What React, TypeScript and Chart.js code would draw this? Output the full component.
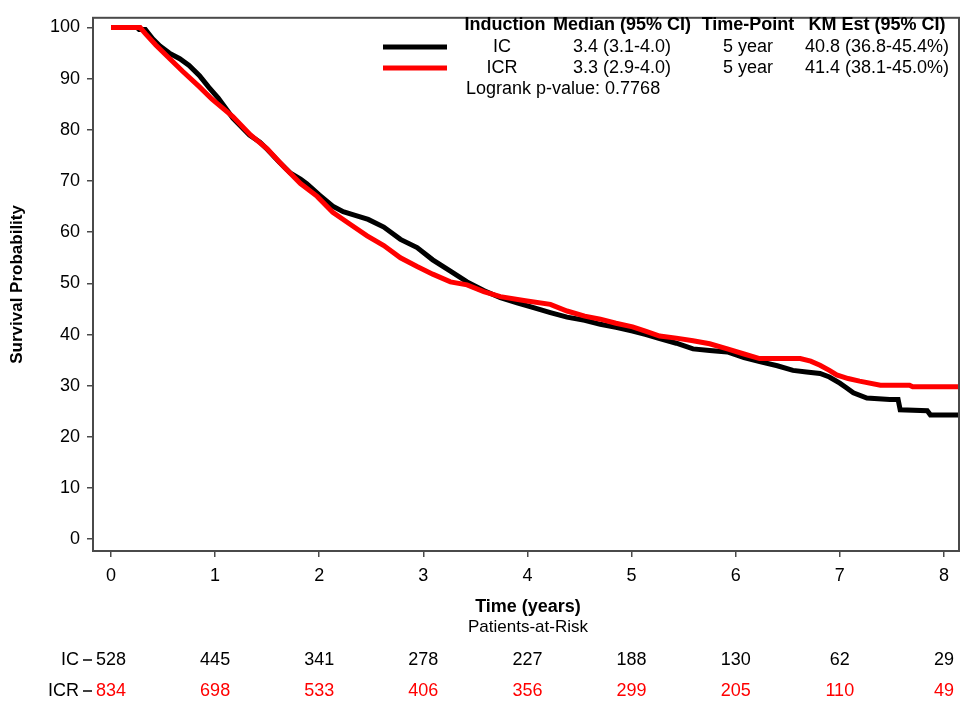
import React, { useEffect, useRef } from "react";
import { Chart, registerables } from "chart.js";

Chart.register(...registerables);

const FONT = '"Liberation Sans", Arial, Helvetica, sans-serif';

// Kaplan-Meier curves (time in years, survival %)
const icTimes = [0, 0.25, 0.27, 0.33, 0.4, 0.47, 0.56, 0.66, 0.75, 0.85, 0.94, 1.03, 1.17, 1.33, 1.43, 1.5, 1.62, 1.72, 1.82, 1.88, 2.0, 2.13, 2.23, 2.33, 2.47, 2.62, 2.78, 2.94, 3.09, 3.26, 3.42, 3.58, 3.74, 3.9, 4.05, 4.22, 4.38, 4.55, 4.7, 4.85, 5.01, 5.14, 5.27, 5.43, 5.59, 5.75, 5.92, 6.08, 6.23, 6.4, 6.55, 6.68, 6.81, 6.9, 7.0, 7.07, 7.13, 7.26, 7.48, 7.56, 7.58, 7.84, 7.87, 8.15];
const icSurv = [100, 100, 99.6, 99.6, 97.8, 96.4, 95.0, 93.9, 92.6, 90.6, 88.3, 86.2, 82.3, 79.0, 77.6, 76.2, 73.6, 71.6, 70.4, 69.5, 67.3, 65.1, 64.0, 63.4, 62.5, 61.0, 58.6, 57.0, 54.6, 52.4, 50.3, 48.6, 47.2, 46.2, 45.3, 44.3, 43.4, 42.8, 42.0, 41.4, 40.7, 40.0, 39.2, 38.3, 37.2, 36.9, 36.6, 35.5, 34.7, 33.9, 33.0, 32.7, 32.4, 31.7, 30.5, 29.5, 28.6, 27.6, 27.3, 27.3, 25.3, 25.1, 24.3, 24.3];

const icrTimes = [0, 0.28, 0.33, 0.43, 0.54, 0.69, 0.85, 0.97, 1.17, 1.34, 1.5, 1.66, 1.82, 1.98, 2.13, 2.3, 2.46, 2.62, 2.78, 2.94, 3.09, 3.26, 3.42, 3.58, 3.74, 3.98, 4.22, 4.38, 4.55, 4.7, 4.85, 5.01, 5.14, 5.27, 5.43, 5.59, 5.75, 5.92, 6.08, 6.23, 6.4, 6.62, 6.72, 6.81, 6.9, 6.97, 7.08, 7.19, 7.39, 7.67, 7.7, 8.15];
const icrSurv = [100, 100, 98.8, 96.6, 94.4, 91.4, 88.4, 86.0, 82.6, 79.0, 76.3, 72.8, 69.5, 67.0, 63.9, 61.5, 59.3, 57.4, 55.0, 53.3, 51.8, 50.3, 49.7, 48.4, 47.4, 46.6, 45.9, 44.6, 43.6, 43.0, 42.2, 41.5, 40.6, 39.7, 39.3, 38.8, 38.2, 37.2, 36.2, 35.3, 35.3, 35.3, 34.8, 34.0, 33.0, 32.1, 31.4, 30.9, 30.1, 30.1, 29.8, 29.8];

const xTicks = [0, 1, 2, 3, 4, 5, 6, 7, 8];
const yTicks = [0, 10, 20, 30, 40, 50, 60, 70, 80, 90, 100];

// Patients at risk
const riskTimes = [0, 1, 2, 3, 4, 5, 6, 7, 8];
const icAtRisk = [528, 445, 341, 278, 227, 188, 130, 62, 29];
const icrAtRisk = [834, 698, 533, 406, 356, 299, 205, 110, 49];

// Legend table
const groups = ["IC", "ICR"];
const groupColors = ["#000000", "#ff0000"];
const tableHeaders = ["Induction", "Median (95% CI)", "Time-Point", "KM Est (95% CI)"];
const medians = ["3.4 (3.1-4.0)", "3.3 (2.9-4.0)"];
const timePoints = ["5 year", "5 year"];
const kmEstimates = ["40.8 (36.8-45.4%)", "41.4 (38.1-45.0%)"];
const logrankText = "Logrank p-value: 0.7768";

const FRAME = "#4a4a4a";

const overlay = {
  id: "overlay",
  afterDraw(chart: any) {
    const { ctx, chartArea: ca } = chart;
    const xs = chart.scales.x;
    ctx.save();
    // frame
    ctx.strokeStyle = FRAME;
    ctx.lineWidth = 2;
    ctx.strokeRect(ca.left, ca.top, ca.right - ca.left, ca.bottom - ca.top);

    ctx.fillStyle = "#000";
    ctx.textBaseline = "middle";

    // legend table
    const colX = [505, 622, 748, 877];
    ctx.font = `bold 18px ${FONT}`;
    ctx.textAlign = "center";
    tableHeaders.forEach((h, i) => ctx.fillText(h, colX[i], 25));
    ctx.font = `18px ${FONT}`;
    const rowY = [47, 68];
    groups.forEach((g, r) => {
      ctx.strokeStyle = groupColors[r];
      ctx.lineWidth = 5;
      ctx.beginPath();
      ctx.moveTo(383, rowY[r]);
      ctx.lineTo(447, rowY[r]);
      ctx.stroke();
      ctx.fillStyle = "#000";
      ctx.fillText(g, colX[0] - 3, rowY[r]);
      ctx.fillText(medians[r], colX[1], rowY[r]);
      ctx.fillText(timePoints[r], colX[2], rowY[r]);
      ctx.fillText(kmEstimates[r], colX[3], rowY[r]);
    });
    ctx.textAlign = "left";
    ctx.fillText(logrankText, 466, 89);

    // y-axis title
    ctx.save();
    ctx.translate(17, (ca.top + ca.bottom) / 2);
    ctx.rotate(-Math.PI / 2);
    ctx.textAlign = "center";
    ctx.font = `bold 17px ${FONT}`;
    ctx.fillText("Survival Probability", 0, 0);
    ctx.restore();

    // x-axis title and at-risk heading
    const midX = 528;
    ctx.textAlign = "center";
    ctx.font = `bold 18px ${FONT}`;
    ctx.fillText("Time (years)", midX, 607);
    ctx.font = `17px ${FONT}`;
    ctx.fillText("Patients-at-Risk", midX, 627);

    // at-risk table
    const riskRows = [icAtRisk, icrAtRisk];
    const riskY = [660, 691];
    ctx.font = `18px ${FONT}`;
    riskRows.forEach((vals, r) => {
      ctx.fillStyle = "#000";
      ctx.textAlign = "right";
      ctx.fillText(groups[r], 79, riskY[r]);
      ctx.strokeStyle = "#000";
      ctx.lineWidth = 1.5;
      ctx.beginPath();
      ctx.moveTo(83, riskY[r]);
      ctx.lineTo(92, riskY[r]);
      ctx.stroke();
      ctx.fillStyle = groupColors[r];
      ctx.textAlign = "center";
      vals.forEach((v, i) => {
        ctx.fillText(String(v), xs.getPixelForValue(riskTimes[i]), riskY[r]);
      });
    });
    ctx.restore();
  },
};

export default function App() {
  const ref = useRef<HTMLCanvasElement | null>(null);
  useEffect(() => {
    if (!ref.current) return;
    const chart = new Chart(ref.current, {
      type: "line",
      data: {
        datasets: [
          {
            label: "ICR",
            data: icrTimes.map((t, i) => ({ x: t, y: icrSurv[i] })),
            borderColor: "#ff0000",
            borderWidth: 5,
            pointRadius: 0,
            tension: 0,
            fill: false,
            order: 0,
          },
          {
            label: "IC",
            data: icTimes.map((t, i) => ({ x: t, y: icSurv[i] })),
            borderColor: "#000000",
            borderWidth: 5,
            pointRadius: 0,
            tension: 0,
            fill: false,
            order: 1,
          },
        ],
      },
      options: {
        responsive: false,
        animation: false,
        devicePixelRatio: 1,
        layout: { padding: { left: 0, top: 8, right: 1, bottom: 0 } },
        plugins: { legend: { display: false }, tooltip: { enabled: false } },
        scales: {
          x: {
            type: "linear",
            min: -0.173,
            max: 8.145,
            afterBuildTicks: (s: any) => {
              s.ticks = xTicks.map((v) => ({ value: v }));
            },
            afterFit: (s: any) => {
              s.height = 154;
            },
            border: { display: false },
            grid: { drawOnChartArea: false, color: FRAME, lineWidth: 1.5, tickLength: 6 },
            ticks: {
              color: "#000",
              font: { family: FONT, size: 18 },
              padding: 8,
              maxRotation: 0,
              autoSkip: false,
            },
          },
          y: {
            type: "linear",
            min: -2.3,
            max: 101.9,
            afterBuildTicks: (s: any) => {
              s.ticks = yTicks.map((v) => ({ value: v }));
            },
            afterFit: (s: any) => {
              s.width = 93;
            },
            border: { display: false },
            grid: { drawOnChartArea: false, color: FRAME, lineWidth: 1.5, tickLength: 6 },
            ticks: {
              color: "#000",
              font: { family: FONT, size: 18 },
              padding: 7,
              autoSkip: false,
            },
          },
        },
      },
      plugins: [overlay],
    });
    return () => chart.destroy();
  }, []);
  return (
    <div style={{ position: "absolute", left: 0, top: 0, width: 960, height: 705, background: "#fff" }}>
      <canvas ref={ref} width={960} height={705} style={{ display: "block" }} />
    </div>
  );
}
